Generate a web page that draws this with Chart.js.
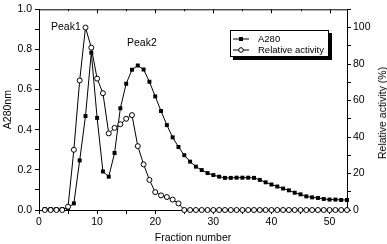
<!DOCTYPE html>
<html>
<head>
<meta charset="utf-8">
<script src="https://cdn.jsdelivr.net/npm/chart.js@4.4.1/dist/chart.umd.min.js"></script>
<style>
    html, body { margin: 0; padding: 0; background: #fff; }
    #wrap { position: relative; width: 387px; height: 244px; font-family: "Liberation Sans", Arial, sans-serif; }
    .peak { position: absolute; font-size: 10.5px; color: #000; }
    #rightTitle {
        position: absolute; left: 381.5px; top: 113px; font-size: 10.5px; color: #000;
        white-space: nowrap; transform: translate(-50%, -50%) rotate(-90deg);
    }
    #legend {
        position: absolute; left: 230px; top: 30px; width: 97px; height: 25px;
        border: 1px solid #000; background: #fff; box-shadow: 3px 3px 0 #000;
        font-size: 9.5px; color: #000;
    }
    #legend .row { position: absolute; left: 2px; height: 11px; line-height: 11px; white-space: nowrap; }
    #legend svg { vertical-align: middle; margin-right: 9px; }
</style>
</head>
<body>
<div id="wrap">
    <canvas id="fractionChart" width="387" height="244"></canvas>
    <div class="peak" style="left:51px; top:20px;">Peak1</div>
    <div class="peak" style="left:127px; top:36px;">Peak2</div>
    <div id="rightTitle">Relative activity (%)</div>
    <div id="legend">
        <div class="row" style="top:2px;">
            <svg width="16" height="8"><line x1="0" y1="4" x2="16" y2="4" stroke="#000" stroke-width="1"/><rect x="6" y="2" width="4" height="4" fill="#000"/></svg>A280
        </div>
        <div class="row" style="top:13px;">
            <svg width="16" height="8"><line x1="0" y1="4" x2="16" y2="4" stroke="#000" stroke-width="1"/><circle cx="8" cy="4" r="2.3" fill="#fff" stroke="#000" stroke-width="1"/></svg>Relative activity
        </div>
    </div>
</div>
<script>
const fractions = [];
for (let i = 1; i <= 53; i++) fractions.push(i);

const a280 = [
    0.005, 0.005, 0.005, 0.005, 0.01, 0.033, 0.247, 0.468, 0.784, 0.459,
    0.192, 0.166, 0.284, 0.507, 0.629, 0.699, 0.72, 0.70, 0.639, 0.566,
    0.493, 0.423, 0.362, 0.314, 0.273, 0.241, 0.216, 0.199, 0.184, 0.174,
    0.166, 0.16, 0.16, 0.161, 0.161, 0.161, 0.16, 0.15, 0.138, 0.127,
    0.117, 0.107, 0.098, 0.086, 0.078, 0.068, 0.063, 0.06, 0.055, 0.052,
    0.052, 0.05, 0.05
];

const relativeActivity = [
    0, 0, 0, 0, 1.8, 33, 71, 100, 89, 72,
    64, 42, 45, 47, 50, 52, 35, 25, 16.5, 9.8,
    8, 7.1, 5.7, 3.6, 0, 0, 0, 0, 0, 0,
    0, 0, 0, 0, 0, 0, 0, 0, 0, 0,
    0, 0, 0, 0, 0, 0, 0, 0, 0, 0,
    0, 0, 0
];

const tickFont = { family: '"Liberation Sans", Arial, sans-serif', size: 10.5 };

// top border with inward ticks
const frameTop = {
    id: 'frameTop',
    afterDraw(chart) {
        const { ctx, chartArea } = chart;
        const xs = chart.scales.x;
        ctx.save();
        ctx.strokeStyle = '#000';
        ctx.lineWidth = 1;
        ctx.beginPath();
        ctx.moveTo(chartArea.left, chartArea.top + 0.5);
        ctx.lineTo(chartArea.right, chartArea.top + 0.5);
        xs.ticks.forEach(t => {
            const px = Math.round(xs.getPixelForValue(t.value)) + 0.5;
            const len = t.value % 10 === 0 ? 4 : 2;
            ctx.moveTo(px, chartArea.top);
            ctx.lineTo(px, chartArea.top + len);
        });
        ctx.stroke();
        ctx.restore();
    }
};

const ctx = document.getElementById('fractionChart').getContext('2d');
new Chart(ctx, {
    type: 'line',
    data: {
        datasets: [
            {
                label: 'Relative activity',
                data: fractions.map((f, i) => ({ x: f, y: relativeActivity[i] })),
                yAxisID: 'y2',
                borderColor: '#000',
                borderWidth: 1,
                pointStyle: 'circle',
                pointRadius: 2.5,
                pointBorderWidth: 1,
                pointBackgroundColor: '#fff',
                pointBorderColor: '#000',
                tension: 0,
                clip: false
            },
            {
                label: 'A280',
                data: fractions.map((f, i) => ({ x: f, y: a280[i] })),
                yAxisID: 'y',
                borderColor: '#000',
                borderWidth: 1,
                pointStyle: 'rect',
                pointRadius: 2.8,
                pointBorderWidth: 0,
                pointBackgroundColor: '#000',
                tension: 0,
                clip: false
            }
        ]
    },
    options: {
        responsive: false,
        animation: false,
        devicePixelRatio: 1,
        layout: { padding: { top: 5, left: 0, right: 0, bottom: 0 } },
        plugins: {
            legend: { display: false },
            tooltip: { enabled: false }
        },
        scales: {
            x: {
                type: 'linear',
                position: 'bottom',
                min: 0,
                max: 53,
                afterFit: s => { s.height = 34; },
                ticks: {
                    stepSize: 5,
                    includeBounds: false,
                    autoSkip: false,
                    maxRotation: 0,
                    padding: 2,
                    color: '#000',
                    font: tickFont,
                    callback: v => (v % 10 === 0 ? v : '')
                },
                grid: { drawOnChartArea: false, tickLength: 4, color: '#000' },
                border: { color: '#000', width: 1 },
                title: {
                    display: true,
                    text: 'Fraction number',
                    color: '#000',
                    font: tickFont,
                    padding: { top: 4.5, bottom: 0 }
                }
            },
            y: {
                position: 'left',
                min: 0,
                max: 1.0,
                afterFit: s => { s.width = 39; },
                ticks: {
                    stepSize: 0.1,
                    autoSkip: false,
                    padding: 3,
                    color: '#000',
                    font: tickFont,
                    callback: v => (Math.round(v * 10) % 2 === 0 ? v.toFixed(1) : '')
                },
                grid: { drawOnChartArea: false, tickLength: 4, color: '#000' },
                border: { color: '#000', width: 1 },
                title: {
                    display: true,
                    text: 'A280nm',
                    color: '#000',
                    font: tickFont,
                    padding: { top: 1.5, bottom: 0 }
                }
            },
            y2: {
                position: 'right',
                min: 0,
                max: 110,
                afterFit: s => { s.width = 40; },
                ticks: {
                    stepSize: 10,
                    autoSkip: false,
                    padding: 2,
                    color: '#000',
                    font: tickFont,
                    callback: v => (v % 20 === 0 && v <= 100 ? v : '')
                },
                grid: { drawOnChartArea: false, tickLength: 4, color: '#000' },
                border: { color: '#000', width: 1 },
                title: { display: false }
            }
        }
    },
    plugins: [frameTop]
});
</script>
</body>
</html>
